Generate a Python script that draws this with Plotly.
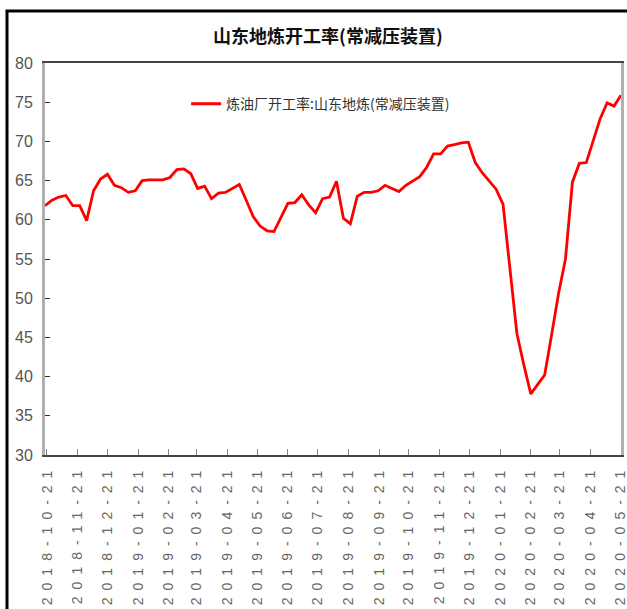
import pandas as pd
import plotly.graph_objects as go

title_text = "山东地炼开工率(常减压装置)"
series_name = "炼油厂开工率:山东地炼(常减压装置)"

start_date = "2018-10-19"
values = [
    61.8, 62.5, 62.9, 63.1, 61.8, 61.8, 59.9, 63.7, 65.2, 65.8,
    64.4, 64.1, 63.5, 63.7, 65.0, 65.1, 65.1, 65.1, 65.4, 66.4,
    66.5, 65.9, 64.0, 64.3, 62.7, 63.4, 63.5, 64.0, 64.5, 62.5,
    60.4, 59.2, 58.6, 58.5, 60.3, 62.1, 62.2, 63.2, 61.9, 60.9,
    62.7, 62.9, 64.9, 60.2, 59.5, 63.0, 63.5, 63.5, 63.7, 64.4,
    64.0, 63.6, 64.4, 64.9, 65.5, 66.7, 68.4, 68.4, 69.4, 69.6,
    69.8, 69.9, 67.3, 66.0, 65.0, 63.9, 62.0, 53.5, 45.5, 41.5,
    37.8, 39.0, 40.2, 45.3, 50.6, 55.0, 64.8, 67.2, 67.3, 70.1,
    72.9, 74.9, 74.5, 75.9,
]
dates = pd.date_range(start_date, periods=len(values), freq="7D")

tick_dates = [
    "2018-10-21", "2018-11-21", "2018-12-21", "2019-01-21", "2019-02-21",
    "2019-03-21", "2019-04-21", "2019-05-21", "2019-06-21", "2019-07-21",
    "2019-08-21", "2019-09-21", "2019-10-21", "2019-11-21", "2019-12-21",
    "2020-01-21", "2020-02-21", "2020-03-21", "2020-04-21", "2020-05-21",
]
tick_text = ['<span style="letter-spacing:7px">%s</span>' % t for t in tick_dates]

fig = go.Figure()
fig.add_trace(go.Scatter(
    x=dates, y=values, mode="lines", name=series_name,
    line=dict(color="#ff0000", width=2.8),
))

fig.update_layout(
    width=627, height=609,
    margin=dict(l=45, r=6, t=63, b=154, autoexpand=False),
    paper_bgcolor="white", plot_bgcolor="white",
    title=dict(text=title_text, x=0.523, xanchor="center", y=1 - 37 / 609, yanchor="middle",
               font=dict(family="Noto Sans CJK SC", size=18, color="#111111", weight="bold")),
    showlegend=True,
    legend=dict(x=0.245, xanchor="left", y=0.895, yanchor="middle",
                bgcolor="rgba(0,0,0,0)", borderwidth=0, itemwidth=30,
                font=dict(family="Noto Sans CJK SC", size=14, color="#333333")),
    xaxis=dict(
        type="date", range=[dates[0], dates[-1]], automargin=False,
        tickmode="array", tickvals=tick_dates, ticktext=tick_text,
        tickangle=-90, ticks="inside", ticklen=6, tickwidth=1, tickcolor="#888888",
        showline=True, linecolor="#444444", linewidth=2, mirror=True,
        showgrid=False, zeroline=False, ticklabelstandoff=1, ticklabeloverflow="allow",
        tickfont=dict(family="Liberation Sans", size=14, color="#666666"),
    ),
    yaxis=dict(
        range=[30, 80], dtick=5, tick0=30, automargin=False,
        ticks="inside", ticklen=5, tickwidth=1, tickcolor="#333333",
        showline=True, linecolor="#b0b0b0", linewidth=3, mirror=True,
        showgrid=False, zeroline=False, ticklabelstandoff=6,
        tickfont=dict(family="Liberation Sans", size=16, color="#555555"),
    ),
    shapes=[dict(type="rect", xref="paper", yref="paper",
                 x0=(7 - 45) / 576, x1=1.05, y0=-0.6, y1=(455 - 11) / 392,
                 line=dict(color="black", width=3), fillcolor="rgba(0,0,0,0)", layer="above")],
)

fig.write_html("out.html", config={"displayModeBar": False},
               post_script="document.body.style.margin='0';document.body.style.overflow='hidden';")
